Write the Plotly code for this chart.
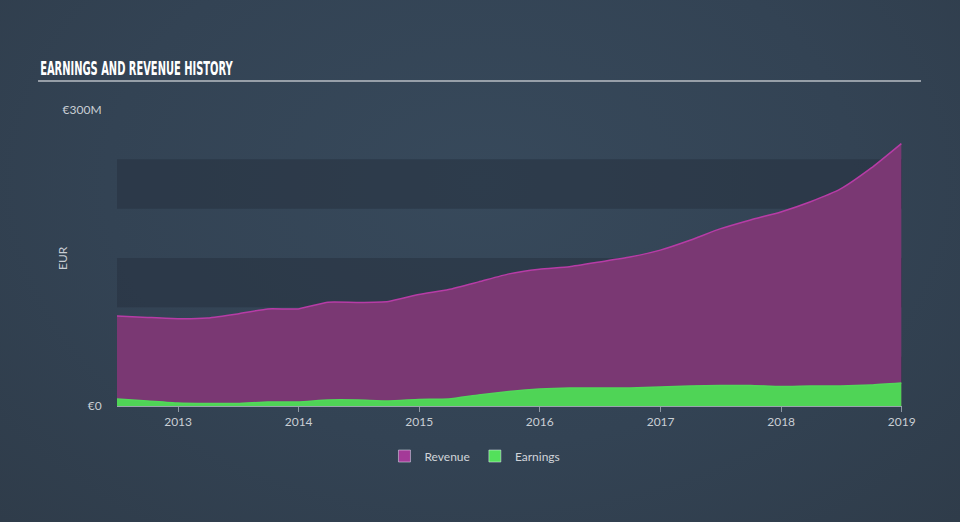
import pandas as pd
import plotly.graph_objects as go

# Données trimestrielles (en millions d'euros)
dates = pd.date_range("2012-06-30", "2018-12-31", freq="QE")
revenue = [91.3, 89.8, 88.5, 89.2, 93.3, 98.4, 98.4, 105.2, 105.0, 106.0,
           113.0, 118.0, 125.8, 133.9, 138.6, 141.2, 146.0, 151.0, 158.0,
           168.0, 179.5, 188.6, 196.7, 207.0, 220.0, 241.0, 266.0]
earnings = [7.1, 5.1, 3.0, 2.5, 2.5, 4.1, 4.1, 6.1, 6.1, 5.1,
            6.6, 7.1, 11.2, 14.7, 17.2, 18.3, 18.3, 18.3, 19.3,
            20.3, 20.8, 20.8, 19.8, 20.3, 20.3, 21.3, 23.3]
year_ticks = ["2013", "2014", "2015", "2016", "2017", "2018", "2019"]
y_ticks = [0, 300]
y_tick_labels = ["€0", "€300M"]

fig = go.Figure()

# Aire du chiffre d'affaires
fig.add_trace(go.Scatter(
    x=dates, y=revenue, mode="lines", fill="tozeroy",
    line=dict(color="#b73ca6", width=1.5, shape="spline", smoothing=0.5),
    fillcolor="#7a3873", showlegend=False, hoverinfo="skip",
))
# Aire des bénéfices
fig.add_trace(go.Scatter(
    x=dates, y=earnings, mode="lines", fill="tozeroy",
    line=dict(color="#52d85a", width=1.5, shape="spline", smoothing=0.5),
    fillcolor="#4fd456", showlegend=False, hoverinfo="skip",
))
# Entrées de légende (carrés)
fig.add_trace(go.Bar(x=[None], y=[None], name="Revenue", marker_color="#a43a98"))
fig.add_trace(go.Bar(x=[None], y=[None], name="Earnings", marker_color="#53e05b"))

# Bandes horizontales sombres
shapes = []
for lo, hi in [(0, 50), (100, 150), (200, 250)]:
    shapes.append(dict(type="rect", xref="paper", yref="y", x0=0, x1=1, y0=lo, y1=hi,
                       fillcolor="rgba(38,50,63,0.55)", line_width=0, layer="below"))
# Ligne sous le titre
shapes.append(dict(type="line", xref="paper", yref="paper", x0=-0.1006, x1=1.0242,
                   y0=1.098, y1=1.098, line=dict(color="#b9bec4", width=1.5)))

fig.update_layout(
    width=960, height=522,
    margin=dict(l=117, r=58, t=110, b=116),
    paper_bgcolor="rgba(0,0,0,0)",
    plot_bgcolor="rgba(0,0,0,0)",
    font=dict(family="Lato, Open Sans, sans-serif", color="#c9ced4", size=12),
    shapes=shapes,
    annotations=[
        dict(text="<b>EARNINGS AND REVENUE HISTORY</b>", xref="paper", yref="paper",
             x=-0.1006, y=1.142, xanchor="left", yanchor="middle", showarrow=False,
             font=dict(family="DejaVu Sans Condensed, Liberation Sans Narrow, sans-serif",
                       size=19, color="#ffffff")),
        dict(text="EUR", xref="paper", yref="paper", x=-0.0701, y=0.5,
             xanchor="center", yanchor="middle", textangle=-90, showarrow=False,
             font=dict(size=12, color="#c9ced4")),
    ],
    xaxis=dict(
        range=[dates[0], pd.Timestamp("2019-01-02")],
        tickvals=[pd.Timestamp(f"{y}-01-01") for y in year_ticks],
        ticktext=year_ticks,
        ticks="outside", ticklen=5, tickcolor="#8d97a2", tickwidth=1,
        showgrid=False, zeroline=False,
        showline=True, linecolor="#9aa4ae", linewidth=1,
        tickfont=dict(size=12, color="#c9ced4"),
    ),
    yaxis=dict(
        range=[0, 300],
        tickvals=y_ticks, ticktext=y_tick_labels,
        ticks="outside", ticklen=12, tickcolor="rgba(0,0,0,0)",
        showgrid=False, zeroline=False, showline=False,
        tickfont=dict(size=12, color="#c9ced4"),
    ),
    legend=dict(
        orientation="h", x=0.456, xanchor="center", y=-0.169, yanchor="middle",
        font=dict(size=12, color="#d0d4d9"), bgcolor="rgba(0,0,0,0)",
        itemwidth=30,
    ),
    bargap=0,
)

# Fond en dégradé, marge du body supprimée, titre resserré
post = """
document.body.style.margin = '0';
document.body.style.background = 'radial-gradient(ellipse at 50% 35%, #37495b 0%, #334354 55%, #2f3c4a 100%)';
var t = Array.from(document.querySelectorAll('.annotation-text')).find(function (e) { return e.textContent.indexOf('EARNINGS') === 0; });
if (t) { t.style.transformBox = 'fill-box'; t.style.transformOrigin = 'left center'; t.style.transform = 'scaleX(0.58)'; }
"""
fig.write_html("out.html", post_script=post, config={"displayModeBar": False})
